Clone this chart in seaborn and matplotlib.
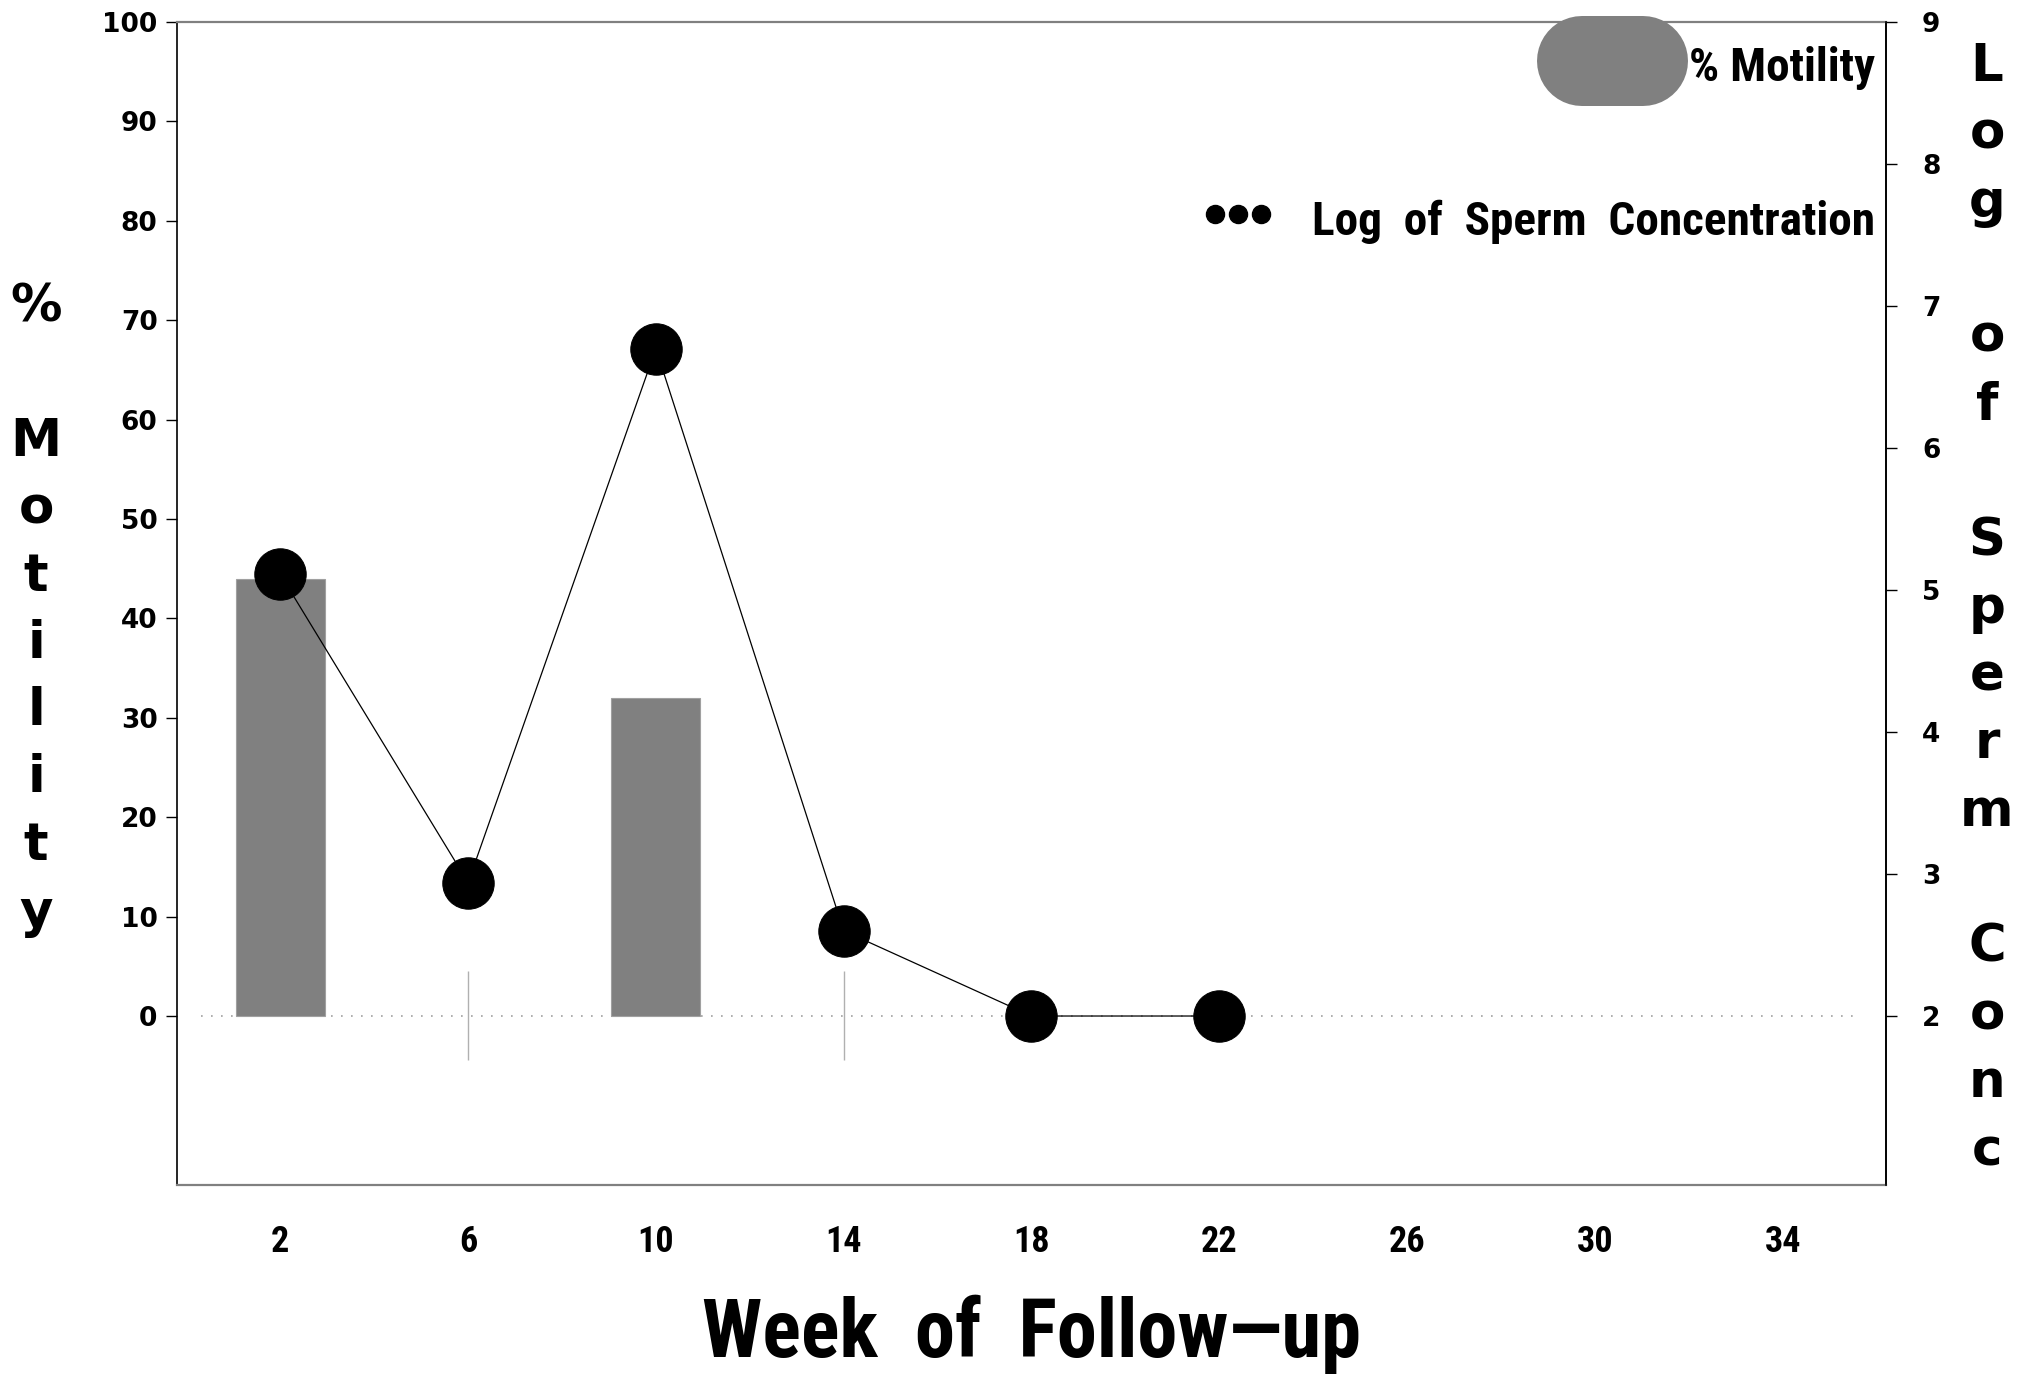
import matplotlib
matplotlib.use("Agg")
import matplotlib.pyplot as plt
from matplotlib.lines import Line2D
import seaborn as sns

# ---- data ----
weeks = [2, 6, 10, 14, 18, 22]
log_conc = [5.11, 2.94, 6.70, 2.60, 2.0, 2.0]
motility_weeks = [2, 10]
motility = [44, 32]
no_motility_weeks = [6, 14]
x_ticks = [2, 6, 10, 14, 18, 22, 26, 30, 34]
left_ticks = [0, 10, 20, 30, 40, 50, 60, 70, 80, 90, 100]
right_ticks = [2, 3, 4, 5, 6, 7, 8, 9]

sns.set_theme(style="white")
NARROW = ['Roboto Condensed', 'Archivo Narrow', 'Liberation Sans', 'DejaVu Sans']
WIDE = ['DejaVu Sans']
plt.rcParams['font.family'] = NARROW
plt.rcParams['text.color'] = 'black'
plt.rcParams['xtick.color'] = 'black'
plt.rcParams['ytick.color'] = 'black'

W, H = 2023, 1377
fig = plt.figure(figsize=(W / 100, H / 100), dpi=100)
fig.patch.set_facecolor('white')

L, R, T, B = 177, 1886, 22, 1185
ax = fig.add_axes([L / W, 1 - B / H, (R - L) / W, (B - T) / H])
ax.set_facecolor('white')

GRAY = '#808080'

# bars (native numeric scale)
sns.barplot(x=motility_weeks, y=motility, native_scale=True, width=1.9 / 8,
            color=GRAY, saturation=1, errorbar=None, ax=ax, edgecolor='#a0a0a0',
            linewidth=0.8)

# markers for weeks without motility value
ax.vlines(no_motility_weeks, -4.4, 4.5, color='#b0b0b0', lw=1.0, zorder=1)

# dotted zero reference line
ax.axhline(0, xmin=0.014, xmax=0.985, color='#a0a0a0', lw=1.2,
           linestyle=(0, (1, 5)), zorder=0)

ax.set_xlim(-0.2, 36.2)
ax.set_ylim(-17, 100)
ax.set_xticks(x_ticks)
ax.set_xticklabels([str(v) for v in x_ticks], fontsize=26, fontweight='bold',
                   family=NARROW, color='black')
ax.set_yticks(left_ticks)
ax.set_yticklabels([str(v) for v in left_ticks], fontsize=19, fontweight='bold',
                   family=WIDE, color='black')
ax.tick_params(axis='x', length=0, pad=28)
ax.tick_params(axis='y', length=8, width=1, pad=6.0, direction='out', left=True)
ax.set_xlabel('')
ax.set_ylabel('')

for s in ['left', 'right']:
    ax.spines[s].set_color('black')
    ax.spines[s].set_linewidth(1.2)
for s in ['top', 'bottom']:
    ax.spines[s].set_color(GRAY)
    ax.spines[s].set_linewidth(1.6)

# line on secondary axis
ax2 = ax.twinx()
sns.lineplot(x=weeks, y=log_conc, ax=ax2, color='black', lw=0.9,
             marker='o', markersize=37, markeredgecolor='black',
             markerfacecolor='black', legend=False)
ax2.set_ylim(0.81, 9)
ax2.set_xlim(-0.2, 36.2)
ax2.set_yticks(right_ticks)
ax2.set_yticklabels([str(v) for v in right_ticks], fontsize=19, fontweight='bold',
                    family=WIDE, color='black')
ax2.tick_params(axis='y', length=8, width=1, pad=18, direction='out', right=True)
ax2.set_ylabel('')
ax2.set_xlabel('')
for s in ['left', 'top', 'bottom']:
    ax2.spines[s].set_visible(False)
ax2.spines['right'].set_color('black')
ax2.spines['right'].set_linewidth(1.2)

# ---- helpers in pixel coordinates (from top-left) ----
def fx(px):
    return px / W

def fy(py):
    return 1 - py / H

# stacked axis labels
left_label = "% Motility"
for i, ch in enumerate(left_label):
    if ch.strip():
        fig.text(fx(36), fy(308 + i * 67.2), ch, ha='center', va='center',
                 fontsize=37, fontweight='bold', family=WIDE, color='black')

right_label = "Log of Sperm Conc"
for i, ch in enumerate(right_label):
    if ch.strip():
        fig.text(fx(1987), fy(67 + i * 67.75), ch, ha='center', va='center',
                 fontsize=37, fontweight='bold', family=WIDE, color='black')

# x-axis label
fig.text(fx(1032), fy(1334), "Week  of  Follow\u2014up", ha='center', va='center',
         fontsize=58, fontweight='bold', family=NARROW, color='black')

# ---- legend ----
fig.add_artist(Line2D([fx(1582), fx(1643)], [fy(61), fy(61)], color=GRAY,
                      lw=90 * 0.72, solid_capstyle='round', zorder=5))
fig.text(fx(1875), fy(68), "% Motility", ha='right', va='center',
         fontsize=34, fontweight='bold', family=NARROW, color='black', zorder=6)
fig.add_artist(Line2D([fx(1215), fx(1238), fx(1261)], [fy(214)] * 3, color='black',
                      lw=0, marker='o', markersize=13, zorder=6))
fig.text(fx(1875), fy(222), "Log  of  Sperm  Concentration", ha='right', va='center',
         fontsize=34, fontweight='bold', family=NARROW, color='black', zorder=6)

fig.savefig('out.png', dpi=100, facecolor='white')
